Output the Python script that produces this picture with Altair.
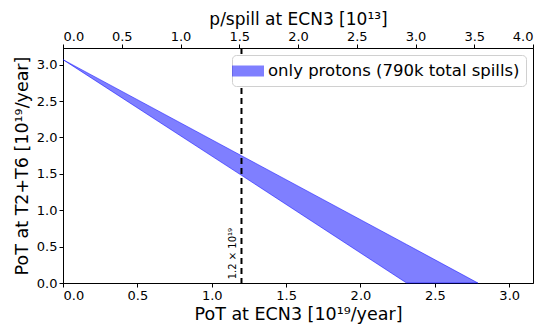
import altair as alt
import pandas as pd

# band values
pot_ecn3 = [0.0, 1.2, 2.31, 2.79]
pot_t2t6_upper = [3.07, 1.75, 0.53, 0.0]
pot_t2t6_lower = [3.07, 1.48, 0.0, 0.0]
series_name = "only protons (790k total spills)"

marker_x = [1.2]
marker_label = ["1.2 × 10¹⁹"]

top_axis_range = [0.0, 4.0]

FONT = "DejaVu Sans"

band_df = pd.DataFrame({
    "x": pot_ecn3,
    "hi": pot_t2t6_upper,
    "lo": pot_t2t6_lower,
    "s": [series_name] * len(pot_ecn3),
})
marker_df = pd.DataFrame({"x": marker_x, "label": marker_label, "y": [0.05]})
top_df = pd.DataFrame({"p": top_axis_range})

xscale = alt.Scale(domain=[0, 3.16], nice=False, zero=False)
yscale = alt.Scale(domain=[0, 3.23], nice=False)

xaxis = alt.Axis(title="PoT at ECN3 [10¹⁹/year]", values=[0, 0.5, 1, 1.5, 2, 2.5, 3],
                 format=".1f", grid=False, labelOverlap=False, titleFontSize=17.5)
yaxis = alt.Axis(title="PoT at T2+T6 [10¹⁹/year]", values=[0, 0.5, 1, 1.5, 2, 2.5, 3],
                 format=".1f", grid=False, labelOverlap=False, titleFontSize=17.5,
                 titlePadding=5)

band = alt.Chart(band_df).mark_area(
    fillOpacity=0.5, stroke="blue", strokeOpacity=0.5, strokeWidth=1
).encode(
    x=alt.X("x:Q", scale=xscale, axis=xaxis),
    y=alt.Y("hi:Q", scale=yscale, axis=yaxis),
    y2="lo:Q",
    fill=alt.Fill("s:N", scale=alt.Scale(domain=[series_name], range=["blue"]),
                  legend=alt.Legend(title=None, orient="top-right", offset=7,
                                    symbolType="M-1.6,-0.55H1.6V0.55H-1.6Z",
                                    symbolSize=400, symbolOpacity=0.5,
                                    labelFontSize=16.5, labelFont=FONT,
                                    labelColor="black", labelLimit=400,
                                    labelOffset=10,
                                    strokeColor="#d0d0d0", fillColor="white",
                                    cornerRadius=4, padding=6,
                                    symbolStrokeWidth=0)),
)

rule = alt.Chart(marker_df).mark_rule(
    color="black", strokeDash=[6, 4], strokeWidth=2
).encode(x=alt.X("x:Q", scale=xscale, axis=xaxis))

label = alt.Chart(marker_df).mark_text(
    angle=270, align="left", baseline="bottom", fontSize=10, font=FONT,
    color="black", dy=-3
).encode(x=alt.X("x:Q", scale=xscale, axis=xaxis),
         y=alt.Y("y:Q", scale=yscale, axis=yaxis), text="label:N")

top = alt.Chart(top_df).mark_point(opacity=0).encode(
    x=alt.X("p:Q", scale=alt.Scale(domain=[0, 4.0], nice=False),
            axis=alt.Axis(orient="top", title="p/spill at ECN3 [10¹³]",
                          values=[0, 0.5, 1, 1.5, 2, 2.5, 3, 3.5, 4],
                          format=".1f", grid=False, labelOverlap=False,
                          titlePadding=2, labelPadding=1, titleFontSize=17)),
    y=alt.value(0),
)

main = alt.layer(band, rule, label)
chart = alt.layer(main, top).resolve_scale(x="independent").properties(
    width=470, height=235,
    padding={"left": 55, "top": 40, "right": 5, "bottom": 43},
    autosize="none",
).configure_view(stroke="black", strokeWidth=1).configure_axis(
    labelFont=FONT, titleFont=FONT, labelFontSize=13, titleFontSize=16,
    labelColor="black", titleColor="black", titleFontWeight="normal",
    domainColor="black", tickColor="black", tickSize=4, labelPadding=2,
    titlePadding=3,
)

chart.save("out.html", embed_options={"renderer": "svg", "actions": False})
